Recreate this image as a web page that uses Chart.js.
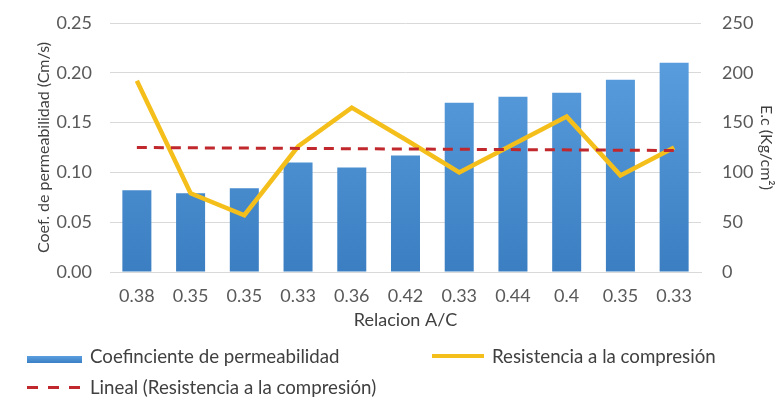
<!DOCTYPE html>
<html>
<head>
<meta charset="utf-8">
<script src="https://cdn.jsdelivr.net/npm/chart.js@4.4.1/dist/chart.umd.min.js"></script>
<style>
  html, body { margin: 0; padding: 0; background: #fff; }
  #wrap { position: relative; width: 783px; height: 398px; }
  #legend { position: absolute; left: 0; top: 0; font-family: Lato, sans-serif; font-size: 18.7px; color: #404040; }
  .item { position: absolute; white-space: nowrap; line-height: 22px; }
  .sw { position: absolute; }
</style>
</head>
<body>
<div id="wrap">
  <canvas id="chart" width="783" height="398"></canvas>
  <div id="legend">
    <div class="sw" style="left:27px;top:356px;width:55px;height:7px;background:linear-gradient(#5b9fe0,#3a7fc4);"></div>
    <div class="item" style="left:90px;top:345px;">Coefinciente de permeabilidad</div>
    <div class="sw" style="left:432px;top:354px;width:52px;height:4px;background:#f5bf1b;"></div>
    <div class="item" style="left:492px;top:345px;">Resistencia a la compresión</div>
    <div class="sw" style="left:27px;top:386px;width:55px;height:3px;background:repeating-linear-gradient(to right,#c0282d 0 11px,transparent 11px 21px);"></div>
    <div class="item" style="left:90px;top:376px;">Lineal (Resistencia a la compresión)</div>
  </div>
</div>
<script>
// data
var relacionAC = ['0.38', '0.35', '0.35', '0.33', '0.36', '0.42', '0.33', '0.44', '0.4', '0.35', '0.33'];
var permeabilidad = [0.082, 0.079, 0.084, 0.110, 0.105, 0.117, 0.170, 0.176, 0.180, 0.193, 0.210];
var resistencia = [192, 79, 57, 126, 165, 133, 100, 128, 156, 97, 125];
// trend line end points, middle left empty
var tendencia = [125, null, null, null, null, null, null, null, null, null, 122];
var leftTicks = [0, 0.05, 0.10, 0.15, 0.20, 0.25];
var rightTicks = [0, 50, 100, 150, 200, 250];

var tickFont = { family: 'Lato', size: 18 };
var gridColor = '#d9d9d9';

function barFill(ctx) {
    var chart = ctx.chart;
    var area = chart.chartArea;
    if (!area) return '#4a90d6';
    var g = chart.ctx.createLinearGradient(0, area.top, 0, area.bottom);
    g.addColorStop(0, '#5ea2e2');
    g.addColorStop(1, '#3b7fc2');
    return g;
}

// fixed box sizes so the plot area lands where the picture has it
function fitY(width) {
    return function (s) {
        s.width = width;
        s.paddingTop = 0;
        s.paddingBottom = 0;
    };
}

new Chart(document.getElementById('chart'), {
    type: 'bar',
    data: {
        labels: relacionAC,
        datasets: [
            {
                type: 'line',
                label: 'Lineal (Resistencia a la compresión)',
                data: tendencia,
                yAxisID: 'y1',
                borderColor: '#c0282d',
                borderWidth: 3,
                borderDash: [10, 7],
                pointRadius: 0,
                spanGaps: true,
                tension: 0,
                order: 0
            },
            {
                type: 'line',
                label: 'Resistencia a la compresión',
                data: resistencia,
                yAxisID: 'y1',
                borderColor: '#f5bf1b',
                borderWidth: 4.5,
                pointRadius: 0,
                tension: 0,
                order: 1
            },
            {
                label: 'Coefinciente de permeabilidad',
                data: permeabilidad,
                yAxisID: 'y',
                backgroundColor: barFill,
                categoryPercentage: 1,
                barPercentage: 0.54,
                order: 2
            }
        ]
    },
    options: {
        responsive: false,
        animation: false,
        layout: { padding: { left: 34, right: 7, top: 23, bottom: 67 } },
        plugins: { legend: { display: false }, tooltip: { enabled: false } },
        scales: {
            x: {
                grid: { display: false, drawTicks: false },
                border: { color: gridColor },
                ticks: { color: '#595959', font: tickFont, padding: 13, maxRotation: 0 },
                title: { display: true, text: 'Relacion A/C', color: '#404040', font: { family: 'Lato', size: 18 }, padding: 0 },
                afterFit: function (s) { s.height = 59; }
            },
            y: {
                position: 'left',
                min: 0,
                max: 0.25,
                afterBuildTicks: function (s) { s.ticks = leftTicks.map(function (v) { return { value: v }; }); },
                grid: { color: gridColor, drawTicks: false },
                border: { display: false },
                ticks: { color: '#595959', font: tickFont, padding: 18, callback: function (v) { return v.toFixed(2); } },
                title: { display: true, text: 'Coef. de permeabilidad (Cm/s)', color: '#404040', font: { family: 'Lato', size: 16 }, padding: 0 },
                afterFit: fitY(76)
            },
            y1: {
                position: 'right',
                min: 0,
                max: 250,
                afterBuildTicks: function (s) { s.ticks = rightTicks.map(function (v) { return { value: v }; }); },
                grid: { display: false, drawTicks: false },
                border: { display: false },
                ticks: { color: '#595959', font: tickFont, padding: 21 },
                title: { display: true, text: 'E.c (Kg/cm²)', color: '#404040', font: { family: 'Lato', size: 16 }, padding: 0 },
                afterFit: fitY(75)
            }
        }
    }
});
</script>
</body>
</html>
